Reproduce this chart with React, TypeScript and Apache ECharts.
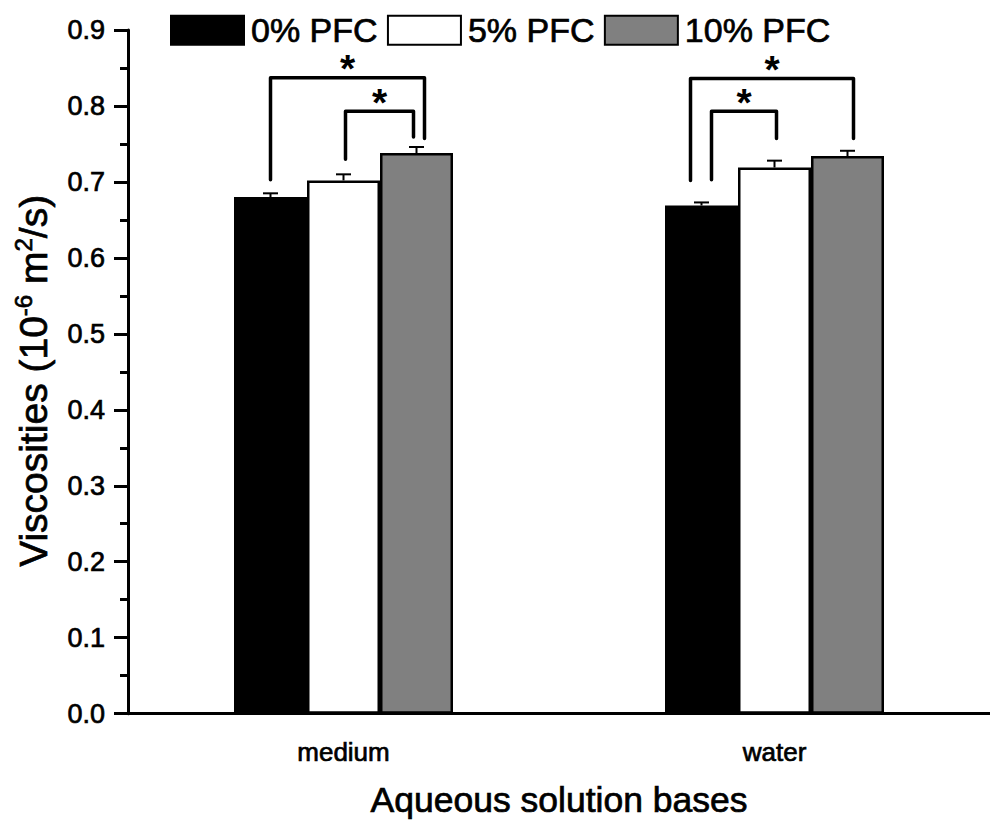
import React, { useEffect, useRef } from "react";
import * as echarts from "echarts";

const categories = ["medium", "water"];
const seriesNames = ["0% PFC", "5% PFC", "10% PFC"];
const pfc0 = [0.68, 0.669];
const pfc5 = [0.702, 0.719];
const pfc10 = [0.738, 0.734];
const err0 = [0.005, 0.004];
const err5 = [0.008, 0.009];
const err10 = [0.008, 0.007];
const yTicks = [0, 0.1, 0.2, 0.3, 0.4, 0.5, 0.6, 0.7, 0.8, 0.9];

// significance brackets: category, from bar, to bar, top value, left leg end, right leg end
const bracketCat = [0, 0, 1, 1];
const bracketFrom = [0, 1, 0, 0];
const bracketTo = [2, 2, 2, 1];
const bracketTop = [0.837, 0.793, 0.836, 0.793];
const bracketLeftEnd = [0.703, 0.73, 0.702, 0.703];
const bracketRightEnd = [0.757, 0.759, 0.757, 0.757];
const bracketLabel = ["*", "*", "*", "*"];

// style constants
const BAR_W = 73;
const FONT = "Liberation Sans, Arial, sans-serif";
const LEG_NUDGE = [
  [0, 8],
  [2, -3],
  [-11, 6],
  [10, 2],
];
const colors = ["#000000", "#ffffff", "#808080"];
const heavy = { textBorderColor: "#000", textBorderWidth: 0.7 };

export default function App() {
  const ref = useRef<HTMLDivElement>(null);
  useEffect(() => {
    if (!ref.current) return;
    const chart = echarts.init(ref.current, undefined, { renderer: "svg" });
    const values = [pfc0, pfc5, pfc10];
    const errs = [err0, err5, err10];

    const barSeries = seriesNames.map((name, i) => ({
      name,
      type: "bar",
      data: values[i],
      barWidth: BAR_W,
      barGap: "0%",
      itemStyle: { color: colors[i], borderColor: "#000", borderWidth: 2.5 },
      z: 2,
    }));

    const errSeries = seriesNames.map((name, i) => ({
      name: name + " err",
      type: "custom",
      z: 3,
      data: categories.map((_, c) => [c, values[i][c], errs[i][c]]),
      renderItem: (params: any, api: any) => {
        const cat = api.value(0);
        const v = api.value(1);
        const e = api.value(2);
        const p0 = api.coord([cat, v]);
        const p1 = api.coord([cat, v + e]);
        const x = p0[0] + (i - 1) * BAR_W;
        return {
          type: "group",
          children: [
            {
              type: "line",
              shape: { x1: x, y1: p0[1], x2: x, y2: p1[1] },
              style: { stroke: "#000", lineWidth: 2 },
            },
            {
              type: "line",
              shape: { x1: x - 7.5, y1: p1[1], x2: x + 7.5, y2: p1[1] },
              style: { stroke: "#000", lineWidth: 2 },
            },
          ],
        };
      },
    }));

    const bracketSeries = {
      name: "brackets",
      type: "custom",
      z: 4,
      data: bracketCat.map((c, k) => [c, bracketTop[k], k]),
      renderItem: (params: any, api: any) => {
        const k = api.value(2);
        const cat = api.value(0);
        const cx = api.coord([cat, 0])[0];
        const xl = cx + (bracketFrom[k] - 1) * BAR_W + LEG_NUDGE[k][0];
        const xr = cx + (bracketTo[k] - 1) * BAR_W + LEG_NUDGE[k][1];
        const yt = api.coord([cat, bracketTop[k]])[1];
        const yl = api.coord([cat, bracketLeftEnd[k]])[1];
        const yr = api.coord([cat, bracketRightEnd[k]])[1];
        return {
          type: "group",
          children: [
            {
              type: "polyline",
              shape: {
                points: [
                  [xl, yl],
                  [xl, yt],
                  [xr, yt],
                  [xr, yr],
                ],
              },
              style: {
                stroke: "#000",
                lineWidth: 3.5,
                fill: null,
                lineCap: "round",
                lineJoin: "round",
              },
            },
            {
              type: "text",
              x: (xl + xr) / 2,
              y: yt - 9,
              style: {
                text: bracketLabel[k],
                fontSize: 39,
                lineHeight: 20,
                fontWeight: "bold",
                fontFamily: FONT,
                fill: "#000",
                align: "center",
                verticalAlign: "middle",
              },
            },
          ],
        };
      },
    };

    chart.setOption({
      animation: false,
      backgroundColor: "#fff",
      legend: {
        data: seriesNames,
        left: 165,
        top: 8,
        itemWidth: 73,
        itemHeight: 29,
        itemGap: 9,
        icon: "rect",
        itemStyle: { borderColor: "#000", borderWidth: 2 },
        textStyle: { fontSize: 34, color: "#000", fontFamily: FONT, padding: [0, 0, 0, 2], ...heavy },
      },
      grid: { left: 128, top: 30, width: 870, bottom: 103 },
      xAxis: {
        type: "category",
        data: categories,
        name: "Aqueous solution bases",
        nameLocation: "middle",
        nameGap: 68,
        nameTextStyle: { fontSize: 35.5, color: "#000", fontFamily: FONT, ...heavy },
        axisLine: { lineStyle: { color: "#000", width: 3 } },
        axisTick: { alignWithLabel: true, length: 14, lineStyle: { color: "#000", width: 3 } },
        axisLabel: { fontSize: 26, color: "#000", fontFamily: FONT, margin: 25, ...heavy },
      },
      yAxis: {
        type: "value",
        min: yTicks[0],
        max: yTicks[yTicks.length - 1],
        interval: 0.1,
        name: "{a|Viscosities (10}{s|-6}{a| m}{s|2}{a|/s)}",
        nameLocation: "middle",
        nameGap: 72,
        nameTextStyle: {
          fontSize: 39,
          color: "#000",
          fontFamily: FONT,
          padding: [0, 18, 0, 0],
          rich: {
            a: { fontSize: 39, fontFamily: FONT, color: "#000", lineHeight: 45, ...heavy },
            s: { fontSize: 24, fontFamily: FONT, color: "#000", verticalAlign: "top", lineHeight: 45, ...heavy },
          },
        },
        splitLine: { show: false },
        axisLine: { show: true, lineStyle: { color: "#000", width: 3 } },
        axisTick: { show: true, length: 14, lineStyle: { color: "#000", width: 3 } },
        minorTick: { show: true, splitNumber: 2, length: 8, lineStyle: { color: "#000", width: 3 } },
        axisLabel: {
          fontSize: 27,
          color: "#000",
          fontFamily: FONT,
          margin: 23,
          formatter: (v: number) => v.toFixed(1),
          ...heavy,
        },
      },
      series: [...barSeries, ...errSeries, bracketSeries],
    });
    return () => chart.dispose();
  }, []);
  return (
    <div
      ref={ref}
      style={{ position: "fixed", left: 0, top: 0, width: 990, height: 823, background: "#fff" }}
    />
  );
}
